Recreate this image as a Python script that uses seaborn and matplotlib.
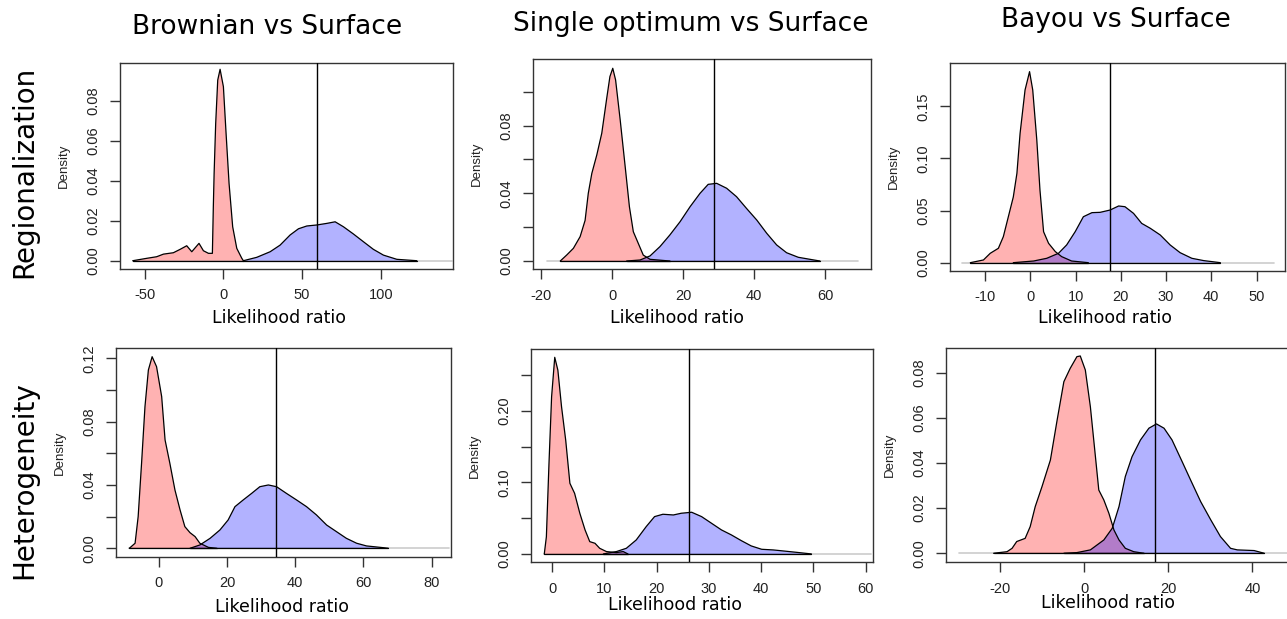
import matplotlib
matplotlib.use("Agg")
import matplotlib.pyplot as plt
import seaborn as sns

col_titles = ["Brownian vs Surface", "Single optimum vs Surface", "Bayou vs Surface"]
row_titles = ["Regionalization", "Heterogeneity"]

# densities: red = null, blue = alternative
# Regionalization, Brownian
p1_red_x = [-57.6, -48.7, -42.4, -38.1, -31.8, -27.5, -23.3, -20.1, -15.5, -12.7, -9.5, -7.0,
            -6.4, -5.9, -4.9, -3.6, -2.1, 0.0, 1.7, 3.6, 5.9, 8.5, 11.7, 12.7]
p1_red_y = [0, 0.0012, 0.002, 0.0033, 0.004, 0.0057, 0.0075, 0.0045, 0.0087, 0.005, 0.0037, 0.0037,
            0.027, 0.0437, 0.0688, 0.0905, 0.0959, 0.0872, 0.0638, 0.0387, 0.017, 0.0062, 0.0012, 0]
p1_blue_x = [12.7, 21.2, 29.7, 36.0, 42.4, 47.7, 53.0, 59.3, 65.7, 71.0, 76.3, 82.6, 89.0, 95.3,
             101.7, 110.2, 122.9]
p1_blue_y = [0, 0.0017, 0.0045, 0.0078, 0.0129, 0.016, 0.0174, 0.0179, 0.0187, 0.0195, 0.017,
             0.0134, 0.0095, 0.0057, 0.0028, 0.0007, 0]

# Regionalization, single optimum
p2_red_x = [-14.7, -12.9, -11.0, -9.1, -7.7, -6.8, -5.8, -4.4, -3.0, -1.6, -0.7, 0.1, 0.9, 2.2,
            3.6, 4.8, 5.9, 7.3, 8.7, 10.6, 16.2]
p2_red_y = [0, 0.0035, 0.0075, 0.0144, 0.024, 0.040, 0.0518, 0.0627, 0.0755, 0.0962, 0.109, 0.1139,
            0.107, 0.0833, 0.0558, 0.032, 0.0173, 0.0104, 0.0035, 0.001, 0]
p2_blue_x = [4.0, 7.8, 10.6, 13.4, 16.2, 19.1, 21.9, 24.7, 27.0, 29.4, 32.2, 35.0, 37.8, 40.7,
             43.5, 46.3, 49.1, 52.4, 55.7, 58.5]
p2_blue_y = [0, 0.0006, 0.003, 0.0085, 0.0154, 0.0233, 0.0321, 0.040, 0.0453, 0.0459, 0.043,
             0.038, 0.0311, 0.0242, 0.0164, 0.0095, 0.0049, 0.0022, 0.001, 0]

# Regionalization, bayou
p3_red_x = [-13.3, -10.4, -8.9, -7.1, -6.0, -4.9, -3.8, -3.0, -2.3, -1.2, -0.2, 0.5, 1.4, 2.1,
            2.9, 4.0, 5.5, 6.9, 9.1, 12.8]
p3_red_y = [0, 0.0026, 0.009, 0.0138, 0.025, 0.044, 0.063, 0.0857, 0.124, 0.1657, 0.1833, 0.1657,
            0.1177, 0.0697, 0.0297, 0.0186, 0.0106, 0.0058, 0.0016, 0]
p3_blue_x = [-3.8, 0.7, 3.6, 6.2, 8.0, 9.9, 11.7, 13.6, 15.4, 17.6, 19.5, 20.9, 22.8, 24.6, 26.5,
             28.7, 30.9, 33.1, 35.7, 38.3, 42.0]
p3_blue_y = [0, 0.0016, 0.0042, 0.009, 0.017, 0.0298, 0.0441, 0.048, 0.0483, 0.0505, 0.0544,
             0.0537, 0.0473, 0.0377, 0.033, 0.0266, 0.017, 0.0096, 0.0042, 0.002, 0]

# Heterogeneity, Brownian
p4_red_x = [-8.7, -7.0, -6.1, -5.1, -4.1, -3.1, -2.0, -0.7, 0.8, 1.8, 3.2, 4.7, 6.2, 7.6, 9.1,
            10.6, 12.0, 14.5, 16.9]
p4_red_y = [0, 0.0032, 0.020, 0.0537, 0.0895, 0.1126, 0.121, 0.1147, 0.0958, 0.0684, 0.0537,
            0.0368, 0.0242, 0.0137, 0.0099, 0.0074, 0.0032, 0.0006, 0]
p4_blue_x = [9.1, 12.0, 15.0, 17.9, 20.3, 22.3, 24.7, 27.2, 29.6, 32.1, 34.5, 37.4, 40.4, 43.3,
             46.2, 49.2, 52.1, 55.0, 58.0, 60.9, 65.8, 67.3]
p4_blue_y = [0, 0.0021, 0.0063, 0.0116, 0.0179, 0.0263, 0.0305, 0.0347, 0.0389, 0.040, 0.0389,
             0.0347, 0.0305, 0.0263, 0.0211, 0.0147, 0.0105, 0.0063, 0.0032, 0.0015, 0.0004, 0]

# Heterogeneity, single optimum
p5_red_x = [-1.5, -1.1, -0.6, -0.1, 0.5, 1.1, 1.8, 2.6, 3.4, 4.3, 5.3, 6.3, 7.2, 8.2, 9.1, 10.4,
            12.3, 13.6, 14.5]
p5_red_y = [0, 0.024, 0.127, 0.22, 0.275, 0.257, 0.206, 0.159, 0.0988, 0.0848, 0.0569, 0.0336,
            0.0172, 0.0149, 0.0079, 0.0033, 0.0019, 0.0033, 0]
p5_blue_x = [9.8, 12.3, 14.2, 16.1, 18.0, 19.6, 21.2, 23.2, 24.7, 26.7, 28.6, 30.5, 32.4, 34.3,
             36.2, 38.1, 40.1, 42.3, 44.2, 46.7, 49.6]
p5_blue_y = [0, 0.0033, 0.0079, 0.0196, 0.0382, 0.0522, 0.0555, 0.0545, 0.0569, 0.0583, 0.0522,
             0.0429, 0.0336, 0.0266, 0.0186, 0.0112, 0.0065, 0.0056, 0.0042, 0.0023, 0]

# Heterogeneity, bayou
p6_red_x = [-21.5, -18.3, -17.1, -16.0, -14.0, -12.8, -11.6, -10.0, -8.0, -6.4, -4.8, -3.3, -1.7,
            -0.9, 0.3, 1.5, 2.7, 3.5, 4.7, 5.9, 7.1, 8.3, 9.8, 11.8, 14.2]
p6_red_y = [0, 0.0007, 0.0022, 0.0052, 0.0066, 0.0118, 0.0207, 0.0295, 0.0413, 0.059, 0.076,
            0.0819, 0.0871, 0.0874, 0.0812, 0.0649, 0.0428, 0.028, 0.0236, 0.0177, 0.0103, 0.0059,
            0.0022, 0.0007, 0]
p6_blue_x = [-4.8, -1.7, 1.5, 4.7, 6.7, 8.3, 9.8, 11.4, 13.4, 15.4, 17.2, 19.0, 20.9, 23.3, 25.3,
             27.7, 30.1, 32.4, 34.8, 36.4, 40.4, 42.8]
p6_blue_y = [0, 0.0003, 0.0015, 0.0059, 0.0111, 0.0207, 0.034, 0.0428, 0.0502, 0.0554, 0.0573,
             0.0554, 0.0502, 0.0406, 0.0325, 0.0229, 0.0148, 0.0074, 0.0022, 0.0015, 0.0012, 0]

# observed likelihood ratio (vertical line) per panel
observed_lr = [59.5, 28.5, 17.6, 34.2, 26.1, 16.8]

reds = [(p1_red_x, p1_red_y), (p2_red_x, p2_red_y), (p3_red_x, p3_red_y),
        (p4_red_x, p4_red_y), (p5_red_x, p5_red_y), (p6_red_x, p6_red_y)]
blues = [(p1_blue_x, p1_blue_y), (p2_blue_x, p2_blue_y), (p3_blue_x, p3_blue_y),
         (p4_blue_x, p4_blue_y), (p5_blue_x, p5_blue_y), (p6_blue_x, p6_blue_y)]

# layout of each pasted R panel (pixel box, limits, ticks)
W, H = 1287, 619
panels = [
    dict(box=(120, 62.7, 452.7, 268.7), xlim=(-65.7, 145.7), ylim=(-0.004, 0.0992),
         xt=[-50, 0, 50, 100], yt=[0, 0.02, 0.04, 0.06, 0.08], ylab_every=1,
         zero=(-57.6, 145), xlab=(279, 318)),
    dict(box=(533.3, 59.3, 871, 269.3), xlim=(-22.3, 72.9), ylim=(-0.0049, 0.1192),
         xt=[-20, 0, 20, 40, 60], yt=[0, 0.02, 0.04, 0.06, 0.08, 0.10], ylab_every=2,
         zero=(-18.5, 69.3), xlab=(677, 318)),
    dict(box=(950, 63.3, 1285, 270.7), xlim=(-17.8, 56.3), ylim=(-0.0077, 0.1913),
         xt=[-10, 0, 10, 20, 30, 40, 50], yt=[0, 0.05, 0.10, 0.15], ylab_every=1,
         zero=(-15.2, 53.8), xlab=(1105, 318)),
    dict(box=(116, 348.3, 450.7, 556.7), xlim=(-12.6, 85.6), ylim=(-0.0053, 0.1263),
         xt=[0, 20, 40, 60, 80], yt=[0, 0.02, 0.04, 0.06, 0.08, 0.10, 0.12], ylab_every=2,
         zero=(-8.7, 85), xlab=(282, 607)),
    dict(box=(530.7, 349.3, 873, 562.3), xlim=(-4.1, 61.4), ylim=(-0.0117, 0.2862),
         xt=[0, 10, 20, 30, 40, 50, 60], yt=[0, 0.05, 0.10, 0.15, 0.20, 0.25], ylab_every=2,
         zero=(-1.5, 61), xlab=(675, 605)),
    dict(box=(946, 348.3, 1292, 562.3), xlim=(-32.8, 49.4), ylim=(-0.004, 0.0908),
         xt=[-20, 0, 20, 40], yt=[0, 0.02, 0.04, 0.06, 0.08], ylab_every=1,
         zero=(-29.6, 49.4), xlab=(1108, 603)),
]

sns.set_style("ticks")
plt.rcParams["font.family"] = ["DejaVu Sans"]
plt.rcParams["text.color"] = "black"

fig = plt.figure(figsize=(W / 100, H / 100), dpi=100)
axis_col = "#333333"
tick_font = "Liberation Sans"

for i, p in enumerate(panels):
    l, t, r, b = p["box"]
    ax = fig.add_axes([l / W, 1 - b / H, (r - l) / W, (b - t) / H])

    ax.plot(p["zero"], [0, 0], color="#cccccc", lw=1.2, zorder=1)
    for (xs, ys), fc in [(reds[i], (1, 0, 0, 0.3)), (blues[i], (0, 0, 1, 0.3))]:
        ax.fill_between(xs, ys, facecolor=fc, edgecolor="none", zorder=2)
        sns.lineplot(x=xs, y=ys, color="black", lw=0.9, ax=ax, sort=False, zorder=3)
        ax.plot([xs[0], xs[-1]], [0, 0], color="black", lw=0.9, zorder=3)
    ax.axvline(observed_lr[i], color="black", lw=1, zorder=4)

    ax.set_xlim(p["xlim"])
    ax.set_ylim(p["ylim"])
    ax.set_xticks(p["xt"])
    ax.set_xticklabels([str(v) for v in p["xt"]], fontfamily=tick_font, fontsize=10.5)
    ylabels = [f"{v:.2f}" if k % p["ylab_every"] == 0 else "" for k, v in enumerate(p["yt"])]
    ax.set_yticks(p["yt"])
    ax.set_yticklabels(ylabels, fontfamily=tick_font, fontsize=10.5, rotation=90, va="center")
    ax.tick_params(direction="out", length=7, width=1, color=axis_col, labelcolor="#222222", pad=7)
    for s in ax.spines.values():
        s.set_visible(True)
        s.set_color(axis_col)
        s.set_linewidth(1)
    ax.set_xlabel("")
    ax.set_ylabel("Density", fontfamily=tick_font, fontsize=9.5, color="#222222", labelpad=12)

    fig.text(p["xlab"][0] / W, 1 - p["xlab"][1] / H, "Likelihood ratio",
             fontsize=12.5, ha="center", va="center", color="black")

# column titles
for x, y, txt in zip([267.5, 691, 1116], [27, 24, 20], col_titles):
    fig.text(x / W, 1 - y / H, txt, fontsize=19, ha="center", va="center", color="black")
# row titles
for y, txt in zip([172, 480], row_titles):
    fig.text(24 / W, 1 - y / H, txt, fontsize=20, rotation=90, ha="center", va="center",
             color="black")

fig.savefig("out.png", dpi=100)
